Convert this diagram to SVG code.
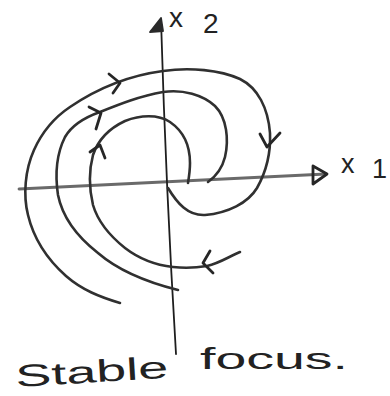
<svg xmlns="http://www.w3.org/2000/svg" width="390" height="396" viewBox="0 0 390 396">
<style>
.traj{fill:none;stroke:#303030;stroke-width:2.6;stroke-linecap:round;stroke-linejoin:round}
.head{fill:none;stroke:#262626;stroke-width:2.8;stroke-linecap:round;stroke-linejoin:round}
.lbl{font-family:"Liberation Sans","DejaVu Sans",sans-serif;fill:#222}
</style>
<rect width="390" height="396" fill="#ffffff"/>
<g id="axes">
  <path d="M19,189 L326,174" fill="none" stroke="#6a6a6a" stroke-width="2.8" stroke-linecap="round"/>
  <path d="M313,166 L327,174 L313,184 Z" class="head" stroke-width="2.2"/>
  <path d="M161,20 Q166,190 176,354" fill="none" stroke="#1e1e1e" stroke-width="1.8" stroke-linecap="round"/>
  <path d="M161,18 L150,32 L163,31 Z" fill="#2a2a2a" stroke="#2a2a2a" stroke-width="1.8" stroke-linejoin="round"/>
</g>
<g id="trajectories">
  <path id="outer" class="traj" d="M120,303 C100,297 82,290 66,276 C48,260 34,240 28,215 C23,195 25,170 34,150 C43,130 55,117 70,107 C95,90 125,76 163,71 C190,67 220,70 240,79 C258,88 268,108 270,133 C271,155 266,172 257,188 C248,203 228,213 205,215 C188,216 177,203 168,188"/>
  <path id="middle" class="traj" d="M178,290 C150,283 120,272 98,253 C75,235 62,215 58,195 C55,175 56,155 65,137 C72,125 83,118 100,112 C120,104 140,96 163,92 C183,89 203,95 215,106 C227,118 229,140 225,157 C222,169 215,177 208,182"/>
  <path id="inner" class="traj" d="M240,252 C228,257 220,263 207,266 C195,268 182,268 173,267 C155,265 138,258 125,248 C110,236 98,222 93,205 C89,188 89,170 93,155 C98,140 110,128 125,121 C140,115 158,114 170,122 C183,131 190,145 190,163 C190,170 189,177 188,183"/>
</g>
<g id="arrowheads">
  <path class="head" d="M109,74 L120,83 L113,93"/>
  <path class="head" d="M89,107 L101,113 L96,129"/>
  <path class="head" d="M90,152 L100,145 L105,158"/>
  <path class="head" d="M260,134 L267,147 L280,133"/>
  <path class="head" d="M210,251 L203,263 L213,273"/>
</g>
<g id="labels">
  <text class="lbl" x="169" y="27" font-size="28">x<tspan x="203" dy="6">2</tspan></text>
  <text class="lbl" x="341" y="173" font-size="27">x<tspan x="372" dy="5">1</tspan></text>
  <text class="lbl" x="16" y="387" font-size="31" textLength="153" lengthAdjust="spacingAndGlyphs" transform="rotate(-3.5 16 387)">Stable</text>
  <text class="lbl" x="200" y="369" font-size="29" textLength="148" lengthAdjust="spacingAndGlyphs">focus.</text>
</g>
</svg>
